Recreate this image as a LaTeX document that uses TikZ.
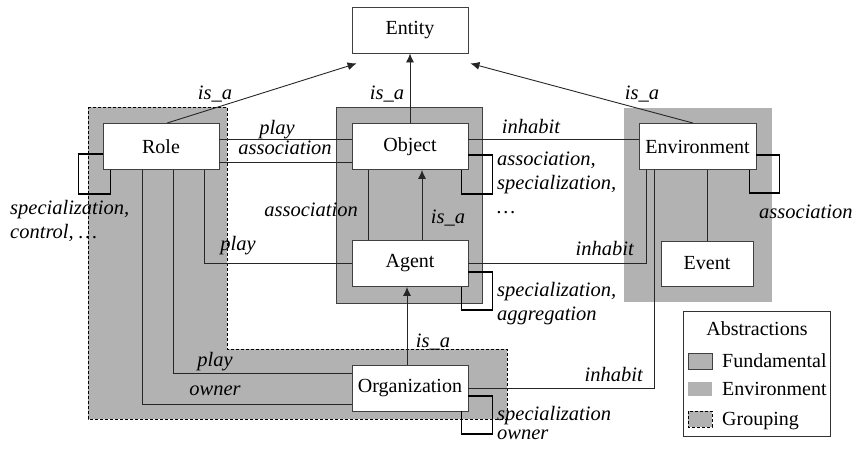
\documentclass[tikz,border=0pt]{standalone}
\usepackage{fontspec}
\setmainfont{Liberation Serif}
\usepackage{xcolor}
\usepackage{tikz}
\usetikzlibrary{arrows.meta, positioning, calc}
\definecolor{areagray}{gray}{0.70}

\begin{document}
\begin{tikzpicture}[
    x=1pt, y=-1pt,
    >={Latex[length=9pt,width=8pt]},
    font=\fontsize{20}{24}\selectfont,
    box/.style={
      draw=black!75,
      fill=white,
      line width=0.9pt,
      minimum width=116pt,
      minimum height=46pt  % all class boxes share this size
    },
    link/.style={draw=black!85, line width=0.9pt},
    selfloop/.style={draw=black, line width=1.8pt},
    rel/.style={font=\fontsize{20.5}{24}\selectfont\itshape, inner sep=0pt},
    panel/.style={fill=areagray, draw=black!75, line width=0.9pt},
    group/.style={fill=areagray, draw=black, line width=1pt, dash pattern=on 3pt off 2pt},
    keytext/.style={inner sep=0pt}
]
\useasboundingbox (0,0) rectangle (854,448);

% background areas
\filldraw[group] (88,107) -- (227,107) -- (227,349) -- (507,349) -- (507,419) -- (88,419) -- cycle;
\draw[panel] (336,107) rectangle (482,303);
\fill[areagray] (624,108) rectangle (772,302);

% classes
\node[box] (entity) at (410,30) {Entity};
\node[box] (role) at (161,146.5) {Role};
\node[box] (object) at (410,146.5) {Object};
\node[box] (agent) at (410,263.5) {Agent};
\node[box] (org) at (410,388) {Organization};
\node[box, minimum width=117pt] (env) at (697.5,146.5) {Environment};
\node[box, minimum width=92pt, minimum height=45pt] (event) at (707,263.5) {Event};

% is_a towards Entity
\draw[link, ->] ([xshift=6pt]role.north) -- ([xshift=5pt,yshift=-10pt]entity.south west);
\draw[link, ->] (object) -- (entity);
\draw[link, ->] ([xshift=-4.5pt]env.north) -- ([xshift=2pt,yshift=-10pt]entity.south east);

% Role relations
\draw[link] ([yshift=7.5pt]role.east) -- ([yshift=7.5pt]object.west);
\draw[link] ([yshift=-15.5pt]role.east) -- ([yshift=-15.5pt]object.west);
\draw[link] ([xshift=43pt]role.south) |- (agent.west);
\draw[link] ([xshift=12pt]role.south) |- ([yshift=15pt]org.west);
\draw[link] ([xshift=-19pt]role.south) |- ([yshift=-16pt]org.west);
\draw[selfloop] ([yshift=-7.5pt]role.west) -| ++(-24,40) -| ([xshift=8pt]role.south west);

% Object / Agent / Organization
\draw[link] ([xshift=-42pt]object.south) -- ([xshift=-42pt]agent.north);
\draw[link, ->] ([xshift=12pt]agent.north) -- ([xshift=12pt]object.south);
\draw[link, ->] ([xshift=-3pt]org.north) -- ([xshift=-3pt]agent.south);
\draw[selfloop] ([yshift=-8.5pt]object.east) -| ++(24,39) -| ([xshift=-7pt]object.south east);
\draw[selfloop] ([yshift=-8.5pt]agent.east) -| ++(24,38) -| ([xshift=-7pt]agent.south east);
\draw[selfloop] ([yshift=-8pt]org.east) -| ++(24,38) -| ([xshift=-7pt]org.south east);

% inhabit
\draw[link] ([yshift=7.5pt]object.east) -- ([yshift=7.5pt]env.west);
\draw[link] (agent.east) -| ([xshift=-51.5pt]env.south);
\draw[link] (org.east) -| ([xshift=-43.5pt]env.south);
\draw[link] (event.north) -- (event.north |- env.south);
\draw[selfloop] ([yshift=-8.5pt]env.east) -| ++(23,38) -| ([xshift=-7pt]env.south east);

% labels (multi-line ones sit on the baseline of their last line)
\node[rel, anchor=base] (isaRole) at (215,99) {is\_a};
\node[rel, anchor=base] (isaObject) at (387,99) {is\_a};
\node[rel, anchor=base] (isaEnv) at (642,99) {is\_a};
\node[rel, anchor=base] (playObject) at (277,134) {play};
\node[rel, anchor=base] (assocObject) at (285,154) {association};
\node[rel, anchor=base west, align=left] (roleLoop) at (10,238) {specialization,\\control, \dots};
\node[rel, anchor=base east] (assocAgent) at (358,216) {association};
\node[rel, anchor=base] (isaAgent) at (448,223) {is\_a};
\node[rel, anchor=base west, align=left] (objectLoop) at (497,213) {association,\\specialization,\\\dots};
\node[rel, anchor=base] (playAgent) at (238,250) {play};
\node[rel, anchor=base] (inhabitObject) at (531,133) {inhabit};
\node[rel, anchor=base east] (inhabitAgent) at (634,255) {inhabit};
\node[rel, anchor=base west, align=left] (agentLoop) at (497,320) {specialization,\\aggregation};
\node[rel, anchor=base west] (envLoop) at (759,218) {association};
\node[rel, anchor=base] (isaOrg) at (433,347) {is\_a};
\node[rel, anchor=base] (playOrg) at (215,366) {play};
\node[rel, anchor=base] (ownerOrg) at (215,395) {owner};
\node[rel, anchor=base east] (inhabitOrg) at (643,381) {inhabit};
\node[rel, anchor=base west, align=left] (orgLoop) at (497,439) {specialization\\[-5pt]owner};

% legend
\draw[draw=black!80, line width=0.9pt] (683,311) rectangle (830,436);
\node[keytext, anchor=base] (keyTitle) at (757,335) {Abstractions};
\draw[panel] (688,353) rectangle (712,369);
\node[keytext, anchor=base west] (keyFund) at (722,367) {Fundamental};
\fill[areagray] (688,382) rectangle (712,396);
\node[keytext, anchor=base west] (keyEnv) at (722,395) {Environment};
\filldraw[group] (688,411) rectangle (712,427);
\node[keytext, anchor=base west] (keyGroup) at (722,425) {Grouping};
\end{tikzpicture}
\end{document}
